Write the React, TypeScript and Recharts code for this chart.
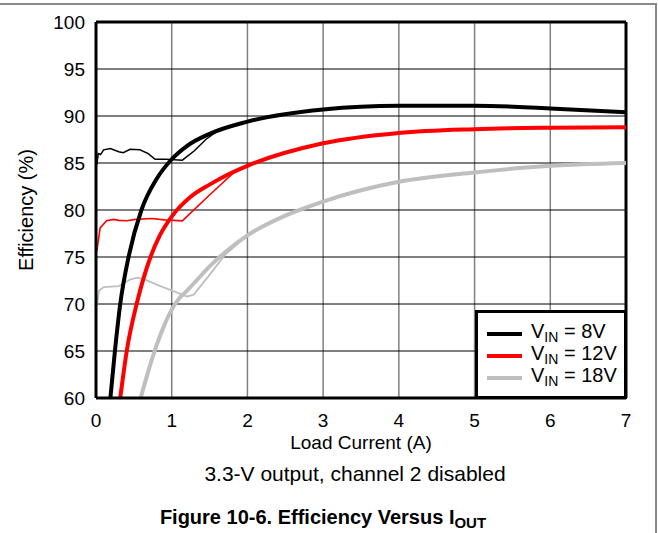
import React from 'react';
import { LineChart, Line, XAxis, YAxis, CartesianGrid, ReferenceLine, Legend } from 'recharts';

// Load current (A) and efficiency (%)
// Thick curves = full range, thin curves = light-load mode
const i8Main = [0.19, 0.25, 0.32, 0.43, 0.6, 0.8, 1.0, 1.2, 1.5, 2, 3, 4, 5, 6, 7];
const eff8Main = [60, 65, 70, 75, 80, 83.3, 85.4, 86.8, 88.1, 89.4, 90.7, 91.1, 91.1, 90.8, 90.4];
const i8Light = [0.01, 0.03, 0.06, 0.1, 0.19, 0.3, 0.36, 0.45, 0.58, 0.69, 0.78, 0.92, 1.14, 1.3, 1.45, 1.6];
const eff8Light = [84.8, 86.0, 85.9, 86.4, 86.55, 86.2, 86.1, 86.45, 86.4, 86.0, 85.4, 85.4, 85.3, 86.3, 87.5, 88.4];

const i12Main = [0.32, 0.41, 0.54, 0.72, 0.85, 1.0, 1.25, 1.5, 1.75, 2, 3, 4, 5, 6, 7];
const eff12Main = [60, 65.2, 70.1, 75, 77.4, 79.3, 81.4, 82.7, 83.8, 84.7, 87.1, 88.2, 88.6, 88.75, 88.8];
const i12Light = [0.01, 0.055, 0.14, 0.23, 0.3, 0.41, 0.52, 0.74, 0.9, 1.14, 1.5, 1.85, 2];
const eff12Light = [75.6, 78.1, 78.85, 79.0, 78.9, 78.85, 79.0, 79.1, 78.95, 78.85, 81.6, 84.2, 84.7];

const i18Main = [0.59, 0.7, 0.8, 0.9, 1.0, 1.1, 1.2, 1.35, 1.5, 1.75, 2, 2.5, 3, 4, 5, 6, 7];
const eff18Main = [60, 63.1, 65.6, 67.7, 69.4, 70.6, 71.4, 72.7, 74.0, 75.8, 77.3, 79.4, 80.9, 83, 84, 84.7, 85];
const i18Light = [0.01, 0.04, 0.1, 0.3, 0.45, 0.54, 0.65, 0.85, 1.03, 1.2, 1.29, 1.5, 1.7, 2];
const eff18Light = [69.8, 71.4, 71.8, 71.9, 72.6, 72.8, 72.6, 71.9, 71.35, 70.8, 71.0, 73.1, 75.2, 77.3];

const xTicks = [0, 1, 2, 3, 4, 5, 6, 7];
const yTicks = [60, 65, 70, 75, 80, 85, 90, 95, 100];

const legendItems = [
  { label: '8V', color: '#000000' },
  { label: '12V', color: '#ff0000' },
  { label: '18V', color: '#bfbfbf' },
];

const toPoints = (xs: number[], ys: number[]) => xs.map((x, i) => ({ x, y: ys[i] }));

const FONT = '"Liberation Sans", Arial, Helvetica, sans-serif';

const LegendBox = () => (
  <div
    style={{
      width: 152,
      height: 89,
      boxSizing: 'border-box',
      border: '3px solid #000',
      background: '#fff',
      padding: '10px 0 0 9px',
      fontFamily: FONT,
      fontSize: 20,
      color: '#000',
    }}
  >
    {legendItems.map((item) => (
      <div key={item.label} style={{ display: 'flex', alignItems: 'center', height: 22 }}>
        <div style={{ width: 35, height: 4, background: item.color, marginRight: 9 }} />
        <span style={{ lineHeight: '22px', whiteSpace: 'nowrap' }}>
          V<sub style={{ fontSize: 14, verticalAlign: '-4px' }}>IN</sub> = {item.label}
        </span>
      </div>
    ))}
  </div>
);

export default function App() {
  return (
    <div
      style={{
        position: 'absolute',
        left: 0,
        top: 0,
        width: 658,
        height: 533,
        background: '#fff',
        fontFamily: FONT,
        overflow: 'hidden',
      }}
    >
      {/* frame edges of the figure box */}
      <div style={{ position: 'absolute', left: 0, top: 3, width: 657, height: 2, background: '#8a8a8a' }} />
      <div style={{ position: 'absolute', left: 655, top: 3, width: 2, height: 530, background: '#8a8a8a' }} />

      <div style={{ position: 'absolute', left: 0, top: 0 }}>
        <LineChart width={658} height={455} margin={{ top: 22, right: 32, bottom: 0, left: 0 }}>
          <CartesianGrid horizontal={false} stroke="#808080" strokeWidth={1.5} />
          <CartesianGrid vertical={false} stroke="#000" strokeWidth={1} />
          <XAxis
            type="number"
            dataKey="x"
            domain={[0, 7]}
            ticks={xTicks}
            interval={0}
            height={57}
            tickLine={false}
            tickSize={4}
            tickMargin={12}
            axisLine={{ stroke: '#000', strokeWidth: 3 }}
            tick={{ fill: '#000', fontSize: 19, fontFamily: FONT }}
            label={{
              value: 'Load Current (A)',
              position: 'insideBottom',
              offset: 6,
              style: { fill: '#000', fontSize: 19, fontFamily: FONT },
            }}
          />
          <YAxis
            type="number"
            dataKey="y"
            domain={[60, 100]}
            ticks={yTicks}
            interval={0}
            width={96}
            tickLine={false}
            tickSize={6}
            tickMargin={5}
            allowDataOverflow
            axisLine={{ stroke: '#000', strokeWidth: 3 }}
            tick={{ fill: '#000', fontSize: 19, fontFamily: FONT }}
            label={{
              value: 'Efficiency (%)',
              angle: -90,
              position: 'insideLeft',
              offset: 26,
              style: { fill: '#000', fontSize: 20, fontFamily: FONT, textAnchor: 'middle' },
            }}
          />
          <ReferenceLine y={100} stroke="#000" strokeWidth={3} />
          <ReferenceLine x={7} stroke="#000" strokeWidth={3} />

          <Line data={toPoints(i18Light, eff18Light)} dataKey="y" stroke="#bfbfbf" strokeWidth={1.8} dot={false} isAnimationActive={false} />
          <Line data={toPoints(i12Light, eff12Light)} dataKey="y" stroke="#ff0000" strokeWidth={1.6} dot={false} isAnimationActive={false} />
          <Line data={toPoints(i8Light, eff8Light)} dataKey="y" stroke="#000000" strokeWidth={1.5} dot={false} isAnimationActive={false} />
          <Line type="monotone" data={toPoints(i18Main, eff18Main)} dataKey="y" stroke="#bfbfbf" strokeWidth={4} dot={false} isAnimationActive={false} />
          <Line type="monotone" data={toPoints(i12Main, eff12Main)} dataKey="y" stroke="#ff0000" strokeWidth={4} dot={false} isAnimationActive={false} />
          <Line type="monotone" data={toPoints(i8Main, eff8Main)} dataKey="y" stroke="#000000" strokeWidth={4} dot={false} isAnimationActive={false} />

          <Legend
            layout="horizontal"
            verticalAlign="middle"
            align="center"
            content={() => <LegendBox />}
            wrapperStyle={{ position: 'absolute', left: 475, top: 310, width: 152, height: 89 }}
          />
        </LineChart>
      </div>

      <div
        style={{
          position: 'absolute',
          left: 0,
          width: 658,
          top: 462,
          textAlign: 'center',
          paddingLeft: 52,
          boxSizing: 'border-box',
          fontSize: 21,
          color: '#000',
        }}
      >
        3.3-V output, channel 2 disabled
      </div>
      <div
        style={{
          position: 'absolute',
          left: 0,
          width: 646,
          top: 506,
          textAlign: 'center',
          fontSize: 20,
          fontWeight: 'bold',
          color: '#000',
        }}
      >
        Figure 10-6. Efficiency Versus I<sub style={{ fontSize: 15, verticalAlign: '-4px' }}>OUT</sub>
      </div>
    </div>
  );
}
